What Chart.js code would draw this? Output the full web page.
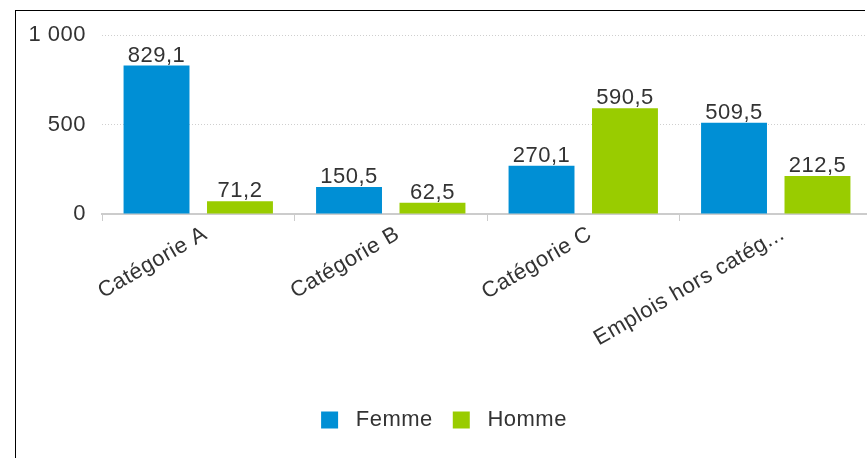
<!DOCTYPE html>
<html lang="fr">
<head>
<meta charset="UTF-8" />
<title>Effectifs par catégorie</title>
<script src="https://cdn.jsdelivr.net/npm/chart.js"></script>
<style>
    body { margin: 0; background: #fff; }
    #wrap {
        position: absolute;
        left: 15px;
        top: 10px;
        width: 849px;
        height: 460px;
        border-left: 1px solid #000;
        border-top: 1px solid #000;
    }
    #chart { position: absolute; left: 0; top: 0; }
</style>
</head>
<body>
<div id="wrap">
    <canvas id="chart" width="857" height="447"></canvas>
</div>

<script>
    const categories = ['Catégorie A', 'Catégorie B', 'Catégorie C', 'Emplois hors catég...'];
    const femme = [829.1, 150.5, 270.1, 509.5];
    const homme = [71.2, 62.5, 590.5, 212.5];
    const yTicks = [0, 500, 1000];

    const FONT = 'Liberation Sans, Arial, sans-serif';
    const SIZE = 22;
    const TEXT = '#333333';

    const fmtValue = v => v.toFixed(1).replace('.', ',');
    const fmtTick = v => String(v).replace(/\B(?=(\d{3})+(?!\d))/g, ' ');

    // slightly wider letter spacing, reapplied whenever the canvas is reset
    const spacing = {
        id: 'spacing',
        beforeUpdate(chart) { chart.ctx.letterSpacing = '0.5px'; },
        beforeDraw(chart) { chart.ctx.letterSpacing = '0.5px'; }
    };

    // value printed above each bar
    const valueLabels = {
        id: 'valueLabels',
        afterDatasetsDraw(chart) {
            const ctx = chart.ctx;
            ctx.save();
            ctx.font = SIZE + 'px ' + FONT;
            ctx.fillStyle = TEXT;
            ctx.textAlign = 'center';
            ctx.textBaseline = 'alphabetic';
            chart.data.datasets.forEach((ds, i) => {
                chart.getDatasetMeta(i).data.forEach((bar, j) => {
                    ctx.fillText(fmtValue(ds.data[j]), bar.x, bar.y - 4);
                });
            });
            ctx.restore();
        }
    };

    const ctx = document.getElementById('chart').getContext('2d');
    new Chart(ctx, {
        type: 'bar',
        data: {
            labels: categories,
            datasets: [
                { label: 'Femme', data: femme, backgroundColor: '#008fd5' },
                { label: 'Homme', data: homme, backgroundColor: '#99cc00' }
            ]
        },
        options: {
            responsive: false,
            animation: false,
            categoryPercentage: 0.867,
            barPercentage: 0.79,
            layout: { padding: { top: 24, right: 1, bottom: 17, left: 0 } },
            plugins: {
                tooltip: { enabled: false },
                legend: {
                    position: 'bottom',
                    labels: {
                        boxWidth: 17,
                        boxHeight: 17,
                        padding: 20,
                        color: TEXT,
                        font: { family: FONT, size: SIZE },
                        generateLabels(chart) {
                            return Chart.defaults.plugins.legend.labels.generateLabels(chart)
                                .map(item => Object.assign(item, { text: ' ' + item.text, lineWidth: 0 }));
                        }
                    }
                }
            },
            scales: {
                x: {
                    grid: {
                        drawOnChartArea: false,
                        offset: true,
                        color: '#cccccc',
                        tickLength: 7
                    },
                    border: { color: '#cccccc', width: 2 },
                    ticks: {
                        autoSkip: false,
                        maxRotation: 30,
                        minRotation: 30,
                        padding: 0,
                        labelOffset: 7,
                        color: TEXT,
                        font: { family: FONT, size: SIZE }
                    },
                    afterFit(scale) {
                        scale.height = 175;
                        scale.paddingLeft = 0;
                        scale.paddingRight = 0;
                    }
                },
                y: {
                    min: 0,
                    max: 1000,
                    afterBuildTicks(scale) { scale.ticks = yTicks.map(v => ({ value: v })); },
                    grid: { color: '#cfcfcf', drawTicks: false },
                    border: { display: false, dash: [1, 2] },
                    ticks: {
                        padding: 16,
                        color: TEXT,
                        font: { family: FONT, size: SIZE },
                        callback: v => fmtTick(v)
                    },
                    afterFit(scale) {
                        scale.width = 86;
                        scale.paddingTop = 0;
                        scale.paddingBottom = 0;
                    }
                }
            }
        },
        plugins: [spacing, valueLabels]
    });
</script>
</body>
</html>
